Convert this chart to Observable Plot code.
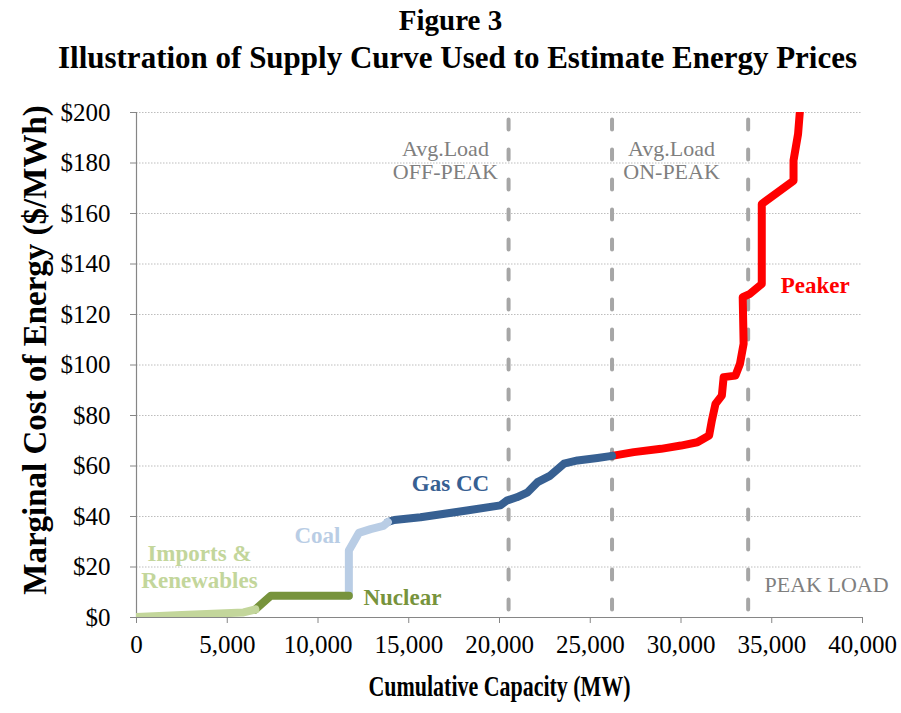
<!DOCTYPE html>
<html><head><meta charset="utf-8">
<script src="https://cdn.jsdelivr.net/npm/d3@7"></script>
<script src="https://cdn.jsdelivr.net/npm/@observablehq/plot@0.6"></script>
<style>
body{margin:0;background:#fff;}
#title{width:901px;height:80px;text-align:center;font-family:'Liberation Serif','Times New Roman',serif;font-weight:bold;line-height:38px;padding-top:1px;box-sizing:border-box;color:#000;}
#title .l1{font-size:29px;}
#title .l2{font-size:31px;position:relative;left:7px;}
g[aria-label="y-axis tick"], g[aria-label="x-axis tick"]{stroke:#868686;}
</style></head><body>
<div id="title"><div class="l1">Figure 3</div><div class="l2">Illustration of Supply Curve Used to Estimate Energy Prices</div></div>
<div id="chart"></div>
<script>
// ---- data ----
const xTicks = [0, 5000, 10000, 15000, 20000, 25000, 30000, 35000, 40000];
const yTicks = [0, 20, 40, 60, 80, 100, 120, 140, 160, 180, 200];

const importsMW    = [0, 2500, 5900, 6550];
const importsPrice = [0.2, 1.0, 2.0, 3.2];

const nuclearMW    = [6550, 7400, 11700];
const nuclearPrice = [3.2, 8.6, 8.6];

const coalMW    = [11700, 11700, 12250, 12900, 13600, 13850];
const coalPrice = [8.6, 26.5, 33.5, 35.0, 36.3, 37.8];

const gasMW    = [13850, 14200, 15650, 18200, 20050, 20400, 20950, 21550, 22100, 22800, 23550, 24300, 25400, 26200];
const gasPrice = [37.8, 38.6, 39.7, 42.4, 44.4, 46.3, 47.6, 49.6, 53.6, 56.2, 60.9, 62.2, 63.2, 64.0];

const peakerMW    = [26200, 27400, 28900, 30000, 30900, 31550, 31700, 31900, 32250, 32350, 33000, 33250, 33450, 33400, 33800, 34450, 34450, 36200, 36200, 36450, 36600];
const peakerPrice = [64.0, 65.5, 66.8, 68.1, 69.4, 72.1, 78.0, 84.6, 87.9, 95.2, 95.8, 100.5, 108.4, 126.9, 128.2, 132.1, 163.8, 173.0, 181.0, 191.5, 205.0];

const loadMW = [20500, 26200, 33700];

const seriesNames = ["Imports", "Nuclear", "Coal", "Gas CC", "Peaker"];
const seriesColors = {"Imports": "#c3d69b", "Nuclear": "#77933c", "Coal": "#b9cde5", "Gas CC": "#376092", "Peaker": "#ff0000"};

const seriesLabelText  = ["Imports &", "Renewables", "Coal", "Nuclear", "Gas CC", "Peaker"];
const seriesLabelOf    = ["Imports", "Imports", "Coal", "Nuclear", "Gas CC", "Peaker"];
const seriesLabelMW    = [3470, 3470, 9970, 14650, 17300, 37400];
const seriesLabelPrice = [25.3, 14.6, 32.5, 7.9, 53.1, 131.5];

const loadLabelText  = ["Avg.Load", "OFF-PEAK", "Avg.Load", "ON-PEAK", "PEAK LOAD"];
const loadLabelMW    = [17020, 17020, 29480, 29480, 38020];
const loadLabelPrice = [185.5, 176.5, 185.5, 176.5, 12.7];

const yTitle = "Marginal Cost of Energy ($/MWh)";
const xTitle = "Cumulative Capacity (MW)";

// ---- build ----
const toRows = (mw, price, s) => mw.map((m, i) => ({mw: m, price: price[i], series: s}));
const seriesRows = {
  "Imports": toRows(importsMW, importsPrice, "Imports"),
  "Nuclear": toRows(nuclearMW, nuclearPrice, "Nuclear"),
  "Coal": toRows(coalMW, coalPrice, "Coal"),
  "Gas CC": toRows(gasMW, gasPrice, "Gas CC"),
  "Peaker": toRows(peakerMW, peakerPrice, "Peaker")
};
const seriesLabels = seriesLabelText.map((t, i) => ({t, s: seriesLabelOf[i], mw: seriesLabelMW[i], price: seriesLabelPrice[i]}));
const loadLabels = loadLabelText.map((t, i) => ({t, mw: loadLabelMW[i], price: loadLabelPrice[i]}));

const font = "'Liberation Serif','Times New Roman',serif";
const lineMarks = seriesNames.slice().reverse().map(s =>
  Plot.line(seriesRows[s], {x: "mw", y: "price", stroke: seriesColors[s], strokeWidth: 8,
    strokeLinecap: "round", strokeLinejoin: "round", clip: true})
);

const chart = Plot.plot({
  width: 901, height: 633,
  marginLeft: 136, marginRight: 39, marginTop: 32, marginBottom: 96,
  style: {fontFamily: font, background: "white", overflow: "visible", color: "#000"},
  x: {domain: [0, 40000]},
  y: {domain: [0, 200]},
  marks: [
    Plot.ruleY(yTicks.filter(d => d > 0), {stroke: "#bdbdbd", strokeDasharray: "1.5,1.5", strokeWidth: 1}),
    Plot.axisY({ticks: yTicks, tickFormat: d => "$" + d, tickSize: 6, tickPadding: 20, fontSize: 25, label: null}),
    Plot.axisX({ticks: xTicks, tickFormat: d3.format(","), tickSize: 6, tickPadding: 12, fontSize: 25, label: null}),
    Plot.ruleX([0], {y1: 0, y2: 200, stroke: "#868686", strokeWidth: 1.2}),
    Plot.ruleY([0], {stroke: "#868686", strokeWidth: 1.2}),
    Plot.ruleX(loadMW, {y1: 197, y2: 0, stroke: "#a6a6a6", strokeWidth: 4, strokeDasharray: "10,20", strokeLinecap: "round"}),
    ...lineMarks,
    Plot.text(seriesLabels, {x: "mw", y: "price", text: "t", fill: d => seriesColors[d.s], fontSize: 23, fontWeight: "bold"}),
    Plot.text(loadLabels, {x: "mw", y: "price", text: "t", fill: "#7f7f7f", fontSize: 22}),
    Plot.text([yTitle], {frameAnchor: "left", textAnchor: "middle", rotate: -90, dx: -101, dy: -15, fontSize: 33, fontWeight: "bold"}),
    Plot.text([xTitle], {frameAnchor: "bottom", textAnchor: "middle", dy: 78, fontSize: 29, fontWeight: "bold"})
  ]
});
document.getElementById("chart").appendChild(chart);
// the reference's x-axis title is drawn horizontally condensed
chart.querySelectorAll("text").forEach(t => {
  if (t.textContent === xTitle) {
    t.setAttribute("textLength", 262);
    t.setAttribute("lengthAdjust", "spacingAndGlyphs");
  }
});
</script>
</body></html>
